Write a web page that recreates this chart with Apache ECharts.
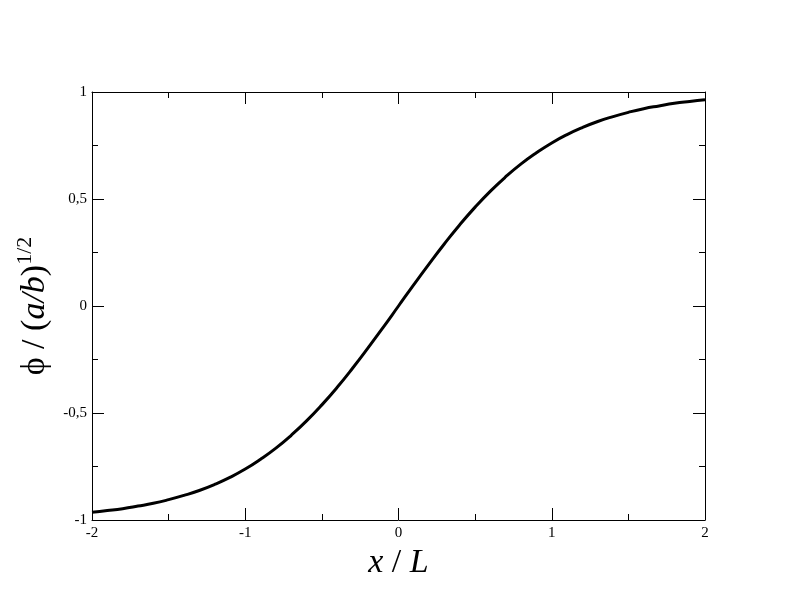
<!DOCTYPE html>
<html>
<head>
<meta charset="utf-8">
<script src="https://cdn.jsdelivr.net/npm/echarts@6/dist/echarts.min.js"></script>
<style>html,body{margin:0;padding:0;background:#fff;}#c{width:792px;height:612px;}</style>
</head>
<body>
<div id="c"></div>
<script>
const xValues = [-2.0,-1.9,-1.8,-1.7,-1.6,-1.5,-1.4,-1.3,-1.2,-1.1,-1.0,-0.9,-0.8,-0.7,-0.6,-0.5,-0.4,-0.3,-0.2,-0.1,0.0,0.1,0.2,0.3,0.4,0.5,0.6,0.7,0.8,0.9,1.0,1.1,1.2,1.3,1.4,1.5,1.6,1.7,1.8,1.9,2.0];
const phiValues = [-0.964,-0.956,-0.947,-0.935,-0.922,-0.905,-0.885,-0.862,-0.834,-0.801,-0.762,-0.716,-0.664,-0.604,-0.537,-0.462,-0.380,-0.291,-0.197,-0.100,0.000,0.100,0.197,0.291,0.380,0.462,0.537,0.604,0.664,0.716,0.762,0.801,0.834,0.862,0.885,0.905,0.922,0.935,0.947,0.956,0.964];
const xTicks = [-2,-1,0,1,2];
const yTicks = [-1,-0.5,0,0.5,1];

const font = '"Liberation Serif","Times New Roman",serif';
const fmt = v => String(v).replace('.', ',');
const common = {
  axisLine:{show:true,onZero:false,lineStyle:{color:'#000',width:1}},
  axisTick:{show:true,inside:true,length:12,lineStyle:{color:'#000',width:1}},
  minorTick:{show:true,splitNumber:2,length:6,lineStyle:{color:'#000',width:1}},
  splitLine:{show:false}
};
const chart = echarts.init(document.getElementById('c'), null, {renderer:'canvas'});
chart.setOption({
  animation:false,
  backgroundColor:'#fff',
  grid:{left:92,right:87,top:92,bottom:92,containLabel:false,outerBoundsMode:'none'},
  xAxis:[
    Object.assign({type:'value',min:-2,max:2,interval:1,position:'bottom',
      axisLabel:{show:true,margin:6,fontFamily:font,fontSize:15,color:'#000',formatter:fmt},
      name:'{i|x} / {i|L}',nameLocation:'middle',nameGap:23,
      nameTextStyle:{fontFamily:font,fontSize:34,color:'#000',rich:{i:{fontStyle:'italic',fontFamily:font,fontSize:34}}}
    }, common),
    Object.assign({type:'value',min:-2,max:2,interval:1,position:'top',axisLabel:{show:false}}, common)
  ],
  yAxis:[
    Object.assign({type:'value',min:-1,max:1,interval:0.5,position:'left',
      axisLabel:{show:true,margin:5,fontFamily:font,fontSize:15,color:'#000',formatter:fmt},
      name:'{n|\u03D5 / (}{i|a/b}{n|)}{s|1/2}',nameLocation:'middle',nameGap:32,nameRotate:90,
      nameTextStyle:{fontFamily:font,fontSize:34,color:'#000',
        rich:{n:{fontFamily:font,fontSize:34},i:{fontStyle:'italic',fontFamily:font,fontSize:34},
              s:{fontFamily:font,fontSize:22,verticalAlign:'top',padding:[0,0,20,0]}}}
    }, common),
    Object.assign({type:'value',min:-1,max:1,interval:0.5,position:'right',axisLabel:{show:false}}, common)
  ],
  series:[{
    type:'line',
    data:xValues.map((x,i)=>[x,phiValues[i]]),
    smooth:true,
    showSymbol:false,
    lineStyle:{color:'#000',width:3},
    xAxisIndex:0,yAxisIndex:0
  }]
});
</script>
</body>
</html>
